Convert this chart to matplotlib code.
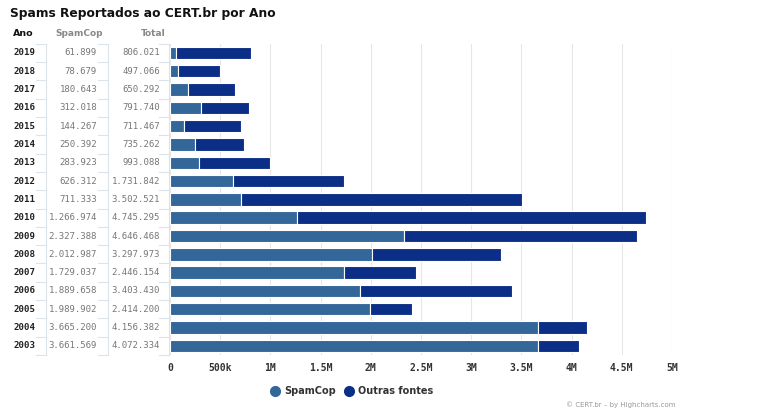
import matplotlib
matplotlib.use("Agg")
import matplotlib.pyplot as plt
from matplotlib.transforms import blended_transform_factory
from matplotlib.lines import Line2D
import numpy as np

years = ["2019", "2018", "2017", "2016", "2015", "2014", "2013", "2012", "2011",
         "2010", "2009", "2008", "2007", "2006", "2005", "2004", "2003"]
spamcop = [61899, 78679, 180643, 312018, 144267, 250392, 283923, 626312, 711333,
           1266974, 2327388, 2012987, 1729037, 1889658, 1989902, 3665200, 3661569]
total = [806021, 497066, 650292, 791740, 711467, 735262, 993088, 1731842, 3502521,
         4745295, 4646468, 3297973, 2446154, 3403430, 2414200, 4156382, 4072334]
outras = [t - s for t, s in zip(total, spamcop)]
xticks = [0, 500000, 1000000, 1500000, 2000000, 2500000, 3000000, 3500000, 4000000, 4500000, 5000000]
xticklabels = ["0", "500k", "1M", "1.5M", "2M", "2.5M", "3M", "3.5M", "4M", "4.5M", "5M"]

def fmt(v):
    return f"{v:,}".replace(",", ".")

C_SPAM = "#336699"
C_OUT = "#0b2e86"

W, H = 768, 415
fig = plt.figure(figsize=(W / 100, H / 100), dpi=100)
left, right, top, bottom = 170, 672, 43.8, 355
ax = fig.add_axes([left / W, 1 - bottom / H, (right - left) / W, (bottom - top) / H])

y = np.arange(len(years))
ax.barh(y, spamcop, height=0.68, color=C_SPAM, edgecolor="white", linewidth=0.8, zorder=3)
ax.barh(y, outras, left=spamcop, height=0.68, color=C_OUT, edgecolor="white", linewidth=0.8, zorder=3)
ax.set_ylim(len(years) - 0.5, -0.5)
ax.set_xlim(0, 5000000)
ax.set_xticks(xticks)
ax.set_xticklabels(xticklabels, fontfamily="DejaVu Sans Mono", fontweight="bold",
                   fontsize=7, color="#333333")
ax.tick_params(axis="x", length=0, pad=6)
ax.set_yticks([])
ax.grid(axis="x", color="#e6e6e6", linewidth=0.8, zorder=0)
for s in ax.spines.values():
    s.set_visible(False)

tr = blended_transform_factory(fig.transFigure, ax.transData)
for i, yr in enumerate(years):
    ax.text(13 / W, i, yr, transform=tr, ha="left", va="center", fontfamily="DejaVu Sans Mono",
            fontweight="bold", fontsize=6.6, color="#222222", clip_on=False)
    ax.text(97 / W, i, fmt(spamcop[i]), transform=tr, ha="right", va="center",
            fontfamily="DejaVu Sans Mono", fontsize=6.5, color="#777777", clip_on=False)
    ax.text(160 / W, i, fmt(total[i]), transform=tr, ha="right", va="center",
            fontfamily="DejaVu Sans Mono", fontsize=6.5, color="#777777", clip_on=False)

# table grid lines
lc = "#dde3ea"
for xl in (46, 107.5, 169):
    fig.add_artist(Line2D([xl / W, xl / W], [1 - top / H, 1 - bottom / H],
                          color=lc, linewidth=0.8, transform=fig.transFigure))
for i in range(len(years) + 1):
    yy = i - 0.5
    for x0, x1 in ((36, 46), (97.5, 107.5), (159, 169)):
        ax.add_line(Line2D([x0 / W, x1 / W], [yy, yy], transform=tr, color=lc,
                           linewidth=0.8, clip_on=False))

# headers
fig.text(13 / W, 1 - 33 / H, "Ano", ha="left", va="center", fontweight="bold",
         fontsize=6.8, color="#111111")
fig.text(103 / W, 1 - 33 / H, "SpamCop", ha="right", va="center", fontweight="bold",
         fontsize=6.5, color="#888888")
fig.text(166 / W, 1 - 33 / H, "Total", ha="right", va="center", fontweight="bold",
         fontsize=6.5, color="#888888")

fig.text(10 / W, 1 - 13 / H, "Spams Reportados ao CERT.br por Ano", ha="left", va="center",
         fontweight="bold", fontsize=8.8, color="#111111")

# legend
fig.add_artist(Line2D([275 / W], [1 - 391 / H], marker="o", markersize=7, color=C_SPAM,
                      linestyle="none", transform=fig.transFigure))
fig.text(284 / W, 1 - 391 / H, "SpamCop", ha="left", va="center", fontweight="bold",
         fontsize=7, color="#333333")
fig.add_artist(Line2D([349 / W], [1 - 391 / H], marker="o", markersize=7, color=C_OUT,
                      linestyle="none", transform=fig.transFigure))
fig.text(358 / W, 1 - 391 / H, "Outras fontes", ha="left", va="center", fontweight="bold",
         fontsize=7, color="#333333")

fig.text(676 / W, 1 - 405 / H, "\u00a9 CERT.br \u2013 by Highcharts.com", ha="right",
         va="center", fontsize=5.0, color="#999999")

fig.savefig("out.png", dpi=100, facecolor="white")
